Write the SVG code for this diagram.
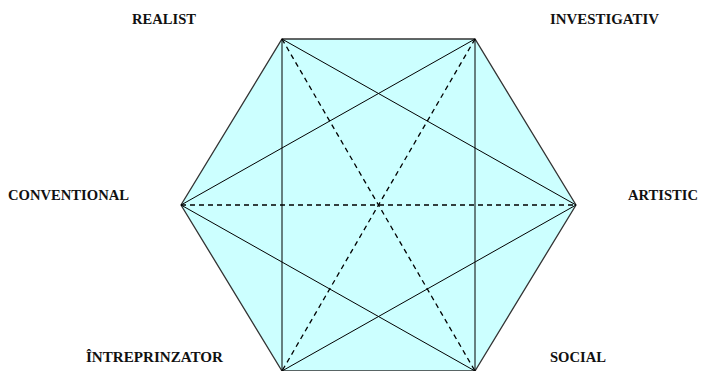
<svg xmlns="http://www.w3.org/2000/svg" width="701" height="371" viewBox="0 0 701 371">
<style>
.lbl{font-family:"Liberation Serif","Times New Roman",serif;font-weight:bold;font-size:14.5px;fill:#111;}
.edge{fill:#ccffff;stroke:#333;stroke-width:1.3;}
.solid{stroke:#000;stroke-width:1;fill:none;}
.dash{stroke:#000;stroke-width:1.3;stroke-dasharray:5,4;fill:none;}
</style>
<rect width="701" height="371" fill="#fff"/>
<g id="hexagon">
<polygon class="edge" points="282,39 475,39 576,205 475,371 282,371 181,205"/>
</g>
<g id="connectors">
<line class="solid" x1="282" y1="39" x2="282" y2="371"/>
<line class="solid" x1="475" y1="39" x2="475" y2="371"/>
<line class="solid" x1="282" y1="39" x2="576" y2="205"/>
<line class="solid" x1="475" y1="39" x2="181" y2="205"/>
<line class="solid" x1="181" y1="205" x2="475" y2="371"/>
<line class="solid" x1="576" y1="205" x2="282" y2="371"/>
<line class="dash" x1="282" y1="39" x2="475" y2="371"/>
<line class="dash" x1="475" y1="39" x2="282" y2="371"/>
<line class="dash" x1="181" y1="205" x2="576" y2="205"/>
</g>
<g id="realist"><text class="lbl" x="132" y="24" textLength="64" lengthAdjust="spacingAndGlyphs">REALIST</text></g>
<g id="investigativ"><text class="lbl" x="550" y="24" textLength="109" lengthAdjust="spacingAndGlyphs">INVESTIGATIV</text></g>
<g id="conventional"><text class="lbl" x="8" y="200" textLength="121" lengthAdjust="spacingAndGlyphs">CONVENTIONAL</text></g>
<g id="artistic"><text class="lbl" x="628" y="200" textLength="70" lengthAdjust="spacingAndGlyphs">ARTISTIC</text></g>
<g id="intreprinzator"><text class="lbl" x="86" y="362" textLength="137" lengthAdjust="spacingAndGlyphs">ÎNTREPRINZATOR</text></g>
<g id="social"><text class="lbl" x="550" y="362" textLength="56" lengthAdjust="spacingAndGlyphs">SOCIAL</text></g>
</svg>
